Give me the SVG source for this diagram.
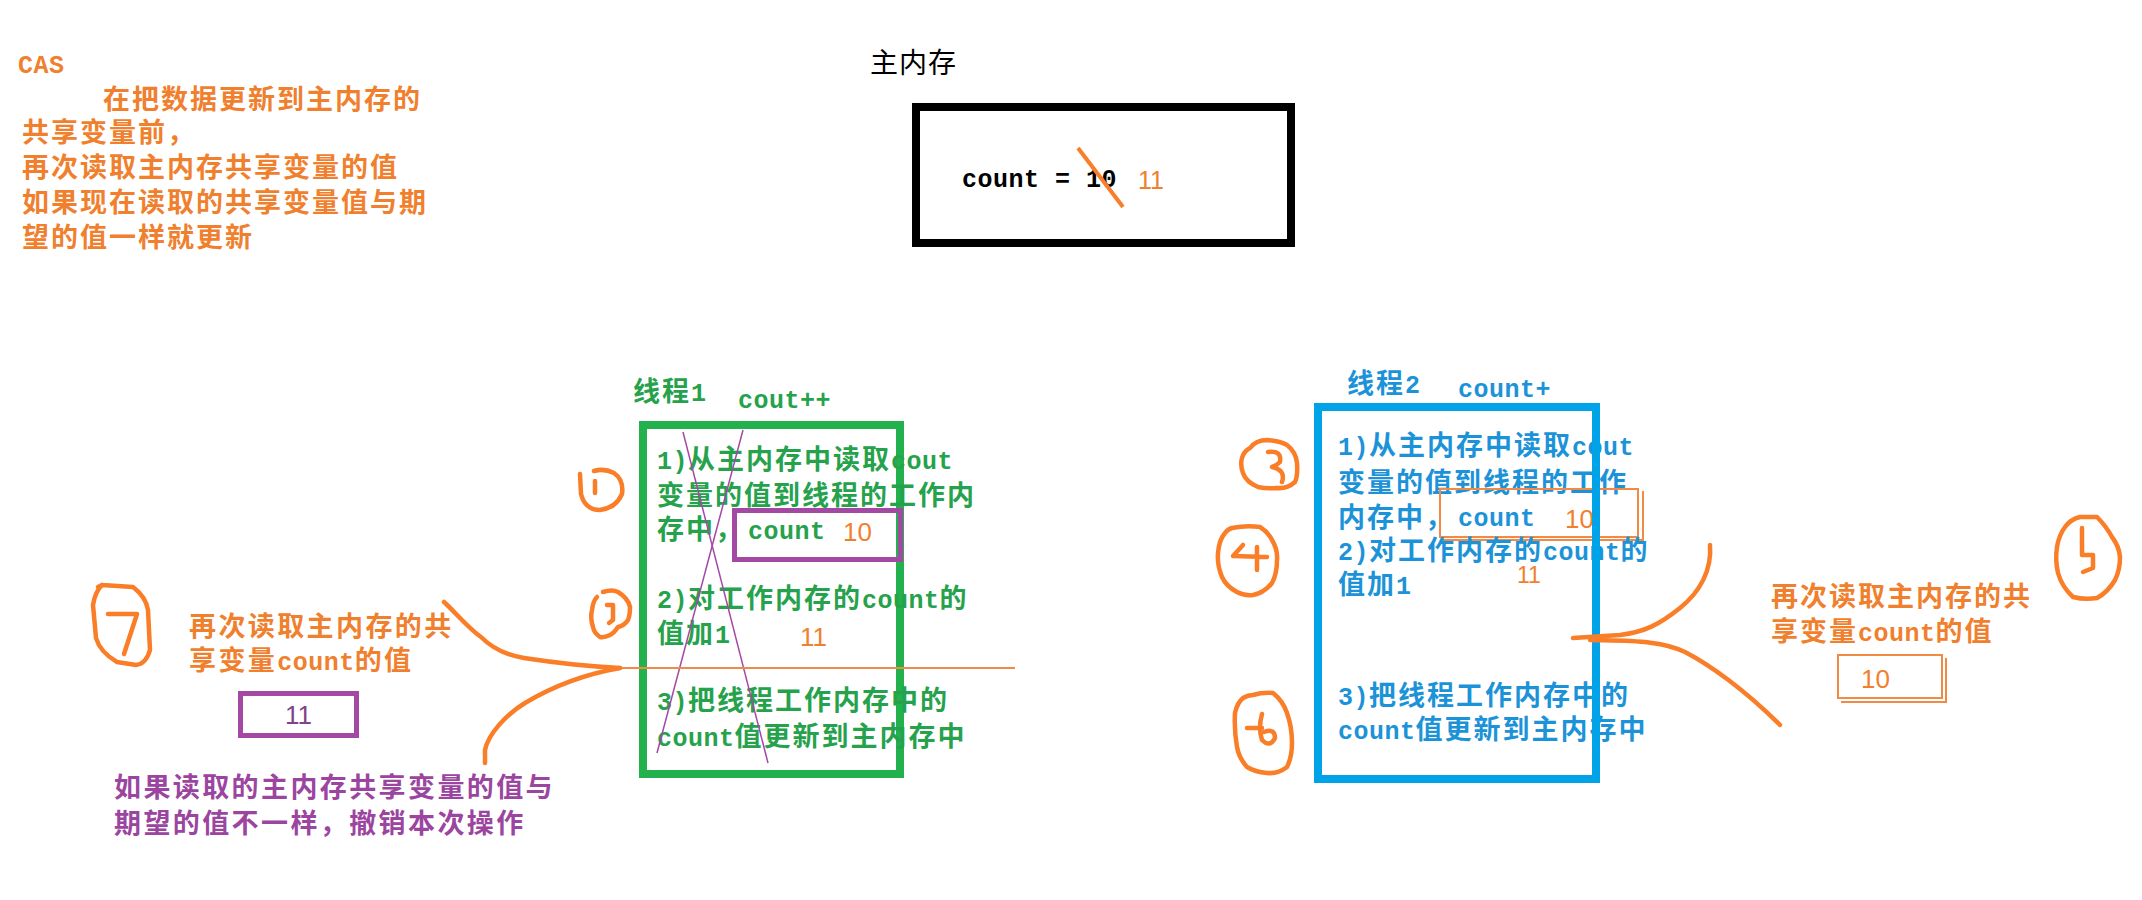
<svg xmlns="http://www.w3.org/2000/svg" width="2142" height="900" viewBox="0 0 2142 900">
<style>
.t{font-family:"Noto Sans CJK SC","Noto Sans CJK JP",sans-serif;font-size:27px;font-weight:bold;letter-spacing:2px}
.m{font-family:"Liberation Mono","DejaVu Sans Mono",monospace;font-size:25px;font-weight:bold;letter-spacing:0.5px}
.d{font-family:"Liberation Sans",Arial,sans-serif;font-size:26px}
.o{fill:#F07F2E}
.g{fill:#25A24B}
.b{fill:#1C93D8}
.p{fill:#9B45A0}
.k{fill:#000}
.hand{fill:none;stroke:#FA7D28;stroke-width:4.5;stroke-linecap:round;stroke-linejoin:round}
.thin{fill:none;stroke:#F08A45;stroke-width:2}
</style>
<rect width="2142" height="900" fill="#fff"/>

<g id="note-cas">
<text class="m o" x="18" y="73">CAS</text>
<text class="t o" x="103" y="109">在把数据更新到主内存的</text>
<text class="t o" x="22" y="142">共享变量前，</text>
<text class="t o" x="22" y="177">再次读取主内存共享变量的值</text>
<text class="t o" x="22" y="212">如果现在读取的共享变量值与期</text>
<text class="t o" x="22" y="247">望的值一样就更新</text>
</g>

<g id="main-memory">
<text x="870" y="73" style="font-family:'Noto Sans CJK SC',sans-serif;font-size:28px;letter-spacing:1px" class="k">主内存</text>
<rect x="916" y="107" width="375" height="136" fill="none" stroke="#000" stroke-width="8"/>
<text class="m k" x="962" y="187">count = 10</text>
<line x1="1078" y1="148" x2="1123" y2="207" stroke="#FA7D28" stroke-width="4"/>
<text class="d o" x="1138" y="189" style="font-size:25px">11</text>
</g>

<g id="thread1">
<text class="t g" x="633" y="401">线程<tspan class="m">1</tspan></text>
<text class="m g" x="738" y="408">cout++</text>
<rect x="643" y="425" width="257" height="349" fill="none" stroke="#22B14C" stroke-width="8"/>
<text class="t g" x="657" y="469"><tspan class="m">1)</tspan>从主内存中读取<tspan class="m">cout</tspan></text>
<text class="t g" x="657" y="505">变量的值到线程的工作内</text>
<text class="t g" x="657" y="539">存中，</text>
<rect x="734.5" y="510.5" width="166" height="49" fill="none" stroke="#A349A4" stroke-width="5"/>
<text class="m g" x="748" y="539">count</text>
<text class="d o" x="843" y="541">10</text>
<text class="t g" x="657" y="608"><tspan class="m">2)</tspan>对工作内存的<tspan class="m">count</tspan>的</text>
<text class="t g" x="657" y="643">值加<tspan class="m">1</tspan></text>
<text class="d o" x="800" y="646">11</text>
<text class="t g" x="657" y="710"><tspan class="m">3)</tspan>把线程工作内存中的</text>
<text class="t g" x="657" y="746"><tspan class="m">count</tspan>值更新到主内存中</text>
<line x1="683" y1="432" x2="768" y2="763" stroke="#A349A4" stroke-width="1.5"/>
<line x1="743" y1="430" x2="657" y2="753" stroke="#A349A4" stroke-width="1.5"/>
</g>

<g id="thread2">
<text class="t b" x="1347" y="393">线程<tspan class="m">2</tspan></text>
<text class="m b" x="1458" y="397">count+</text>
<text class="t b" x="1338" y="455"><tspan class="m">1)</tspan>从主内存中读取<tspan class="m">cout</tspan></text>
<text class="t b" x="1338" y="492">变量的值到线程的工作</text>
<text class="t b" x="1338" y="527">内存中，</text>
<rect x="1440" y="489" width="198" height="48" class="thin"/>
<path d="M1643,491 V540 H1443" class="thin"/>
<text class="m b" x="1458" y="526">count</text>
<text class="d o" x="1565" y="528">10</text>
<text class="t b" x="1338" y="560"><tspan class="m">2)</tspan>对工作内存的<tspan class="m">count</tspan>的</text>
<text class="d o" x="1517" y="583" style="font-size:23px">11</text>
<text class="t b" x="1338" y="594">值加<tspan class="m">1</tspan></text>
<text class="t b" x="1338" y="705"><tspan class="m">3)</tspan>把线程工作内存中的</text>
<text class="t b" x="1338" y="739"><tspan class="m">count</tspan>值更新到主内存中</text>
<rect x="1318" y="407" width="278" height="372" fill="none" stroke="#00A2E8" stroke-width="8"/>
</g>

<g id="step1">
<path class="hand" d="M580,474 L581,494 Q585,510 600,510 Q616,508 622,494 Q624,480 614,473 Q604,468 594,471"/>
<path class="hand" d="M595,481 L595,493"/>
</g>
<g id="step2">
<path class="hand" d="M603,592 Q612,589 618,592 Q628,598 630,607 Q630,615 628,620 Q624,626 618,627 Q614,633 610,635 Q604,638 600,637 Q594,633 593,627 Q590,618 592,610 Q593,601 597,597"/>
<path class="hand" d="M607,605 L613,605 L613,620 L609,623"/>
</g>
<g id="step3">
<path class="hand" d="M1250,448 Q1256,440 1267,440 Q1280,441 1287,445 Q1296,452 1297,463 Q1298,475 1295,482 Q1287,489 1277,488 Q1266,489 1258,487 Q1246,482 1243,473 Q1240,465 1242,458 Q1244,451 1250,448"/>
<path class="hand" d="M1268,452 Q1282,450 1280,462 Q1276,466 1272,467 Q1286,470 1282,482"/>
</g>
<g id="step4">
<path class="hand" d="M1232,528 Q1246,525 1260,527 Q1268,532 1272,540 Q1278,550 1277,560 Q1277,574 1272,583 Q1264,593 1253,595 Q1244,596 1237,592 Q1226,586 1222,577 Q1217,565 1218,553 Q1219,540 1225,533 Q1228,529 1232,528"/>
<path class="hand" d="M1243,545 L1233,556 L1267,557 M1257,547 L1257,570"/>
</g>
<g id="step5">
<path class="hand" d="M2080,517 L2097,517 Q2106,526 2112,537 Q2119,546 2120,557 Q2120,570 2115,580 Q2108,592 2097,598 Q2085,600 2073,597 Q2062,587 2058,573 Q2055,560 2057,547 Q2059,535 2065,527 Q2071,519 2080,517"/>
<path class="hand" d="M2082,528 L2082,555 L2093,555 L2093,568 L2083,572"/>
</g>
<g id="step6">
<path class="hand" d="M1253,695 Q1263,692 1273,693 Q1283,701 1287,713 Q1292,727 1292,743 Q1292,757 1287,767 Q1278,774 1267,773 Q1255,772 1247,767 Q1239,758 1237,747 Q1234,730 1235,713 Q1237,703 1243,698 Q1248,695 1253,695"/>
<path class="hand" d="M1247,728 L1262,728 M1262,714 Q1258,728 1262,740 Q1270,748 1275,738 Q1275,728 1264,732"/>
</g>
<g id="step7">
<path class="hand" d="M98,587 L102,585 L133,587 Q146,597 148,610 L150,650 Q146,664 136,665 L117,662 Q100,652 96,638 L93,605 Q95,592 102,585"/>
<path class="hand" d="M108,614 L137,614 L124,654"/>
</g>

<g id="note-left">
<text class="t o" x="189" y="636" style="letter-spacing:2.4px">再次读取主内存的共</text>
<text class="t o" x="189" y="670" style="letter-spacing:2.4px">享变量<tspan class="m">count</tspan>的值</text>
<rect x="240.5" y="693.5" width="116" height="42" fill="none" stroke="#A349A4" stroke-width="5"/>
<text class="d" x="285" y="724" style="fill:#7E4489">11</text>
<text class="t p" x="114" y="797" style="letter-spacing:2.4px">如果读取的主内存共享变量的值与</text>
<text class="t p" x="114" y="833" style="letter-spacing:2.4px">期望的值不一样，撤销本次操作</text>
</g>

<g id="note-right">
<text class="t o" x="1771" y="606">再次读取主内存的共</text>
<text class="t o" x="1771" y="641">享变量<tspan class="m">count</tspan>的值</text>
<rect x="1838" y="655" width="104" height="43" class="thin"/>
<path d="M1946,658 V702 H1841" class="thin"/>
<text class="d o" x="1861" y="688">10</text>
</g>

<g id="connectors">
<line x1="615" y1="668" x2="1015" y2="668" stroke="#F08A45" stroke-width="2"/>
<path class="hand" d="M444,602 C455,612 468,628 481,637 C492,648 505,655 524,658 C550,662 580,666 620,668"/>
<path class="hand" d="M485,763 L485,750 C488,735 505,715 525,703 C550,688 580,675 620,668"/>
<path class="hand" d="M1710,545 C1712,570 1700,592 1680,608 C1660,624 1645,632 1620,635 L1573,638"/>
<path class="hand" d="M1590,640 C1630,641 1660,640 1685,652 C1710,665 1745,690 1780,725"/>
</g>
</svg>
